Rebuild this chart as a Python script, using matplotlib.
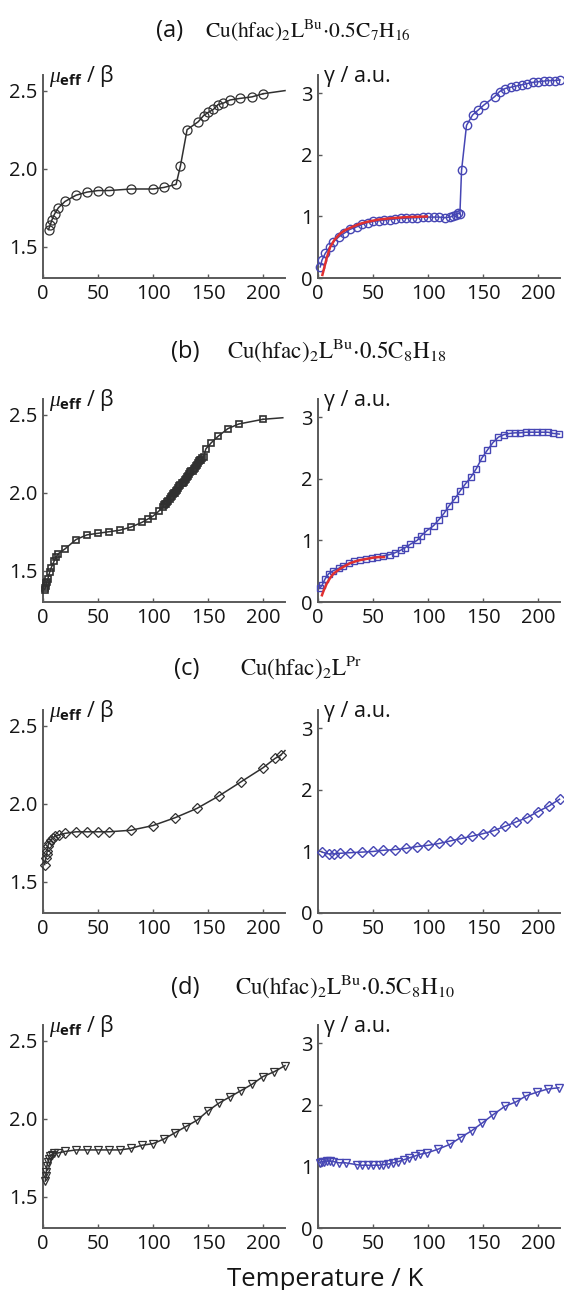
import matplotlib
matplotlib.use("Agg")
import matplotlib.pyplot as plt

# ---------------- data ----------------
# (a) Cu(hfac)2L^Bu.0.5C7H16
Ta_mu = [5, 6.6, 8, 10.5, 14, 20, 30, 40, 50, 60, 80, 100, 110, 121, 125, 131, 141, 146,
         150, 155, 159, 164, 170, 179, 190, 200]
mu_a = [1.61, 1.64, 1.67, 1.71, 1.75, 1.79, 1.83, 1.85, 1.86, 1.86, 1.87, 1.87, 1.88, 1.90,
        2.02, 2.25, 2.30, 2.34, 2.36, 2.38, 2.41, 2.42, 2.44, 2.45, 2.46, 2.48]
Ta_mu_tail = [200, 220]
mu_a_tail = [2.48, 2.50]

Ta_g = [2, 3.6, 6.6, 10.6, 14, 19, 24, 29, 35, 40, 45, 50, 55, 60, 65, 70, 75, 80, 85, 90,
        95, 100, 105, 110, 115, 120, 123, 125, 127, 129, 130.5, 135, 140.5, 145.6, 150.7,
        160.7, 165, 170, 175, 180, 185, 190, 195, 200, 205, 210, 215, 220]
g_a = [0.18, 0.29, 0.40, 0.50, 0.59, 0.67, 0.73, 0.79, 0.83, 0.87, 0.90, 0.92, 0.93, 0.94,
       0.95, 0.96, 0.97, 0.97, 0.98, 0.98, 0.99, 0.99, 0.99, 0.99, 0.98, 0.99, 1.01, 1.03,
       1.05, 1.04, 1.75, 2.48, 2.65, 2.73, 2.81, 2.95, 3.03, 3.08, 3.10, 3.12, 3.14, 3.16,
       3.18, 3.19, 3.20, 3.21, 3.21, 3.22]
Ta_fit = [4, 5, 8, 11, 15, 20, 25, 31, 38, 44, 55, 65.6, 80, 99]
g_a_fit = [0.05, 0.12, 0.33, 0.50, 0.62, 0.72, 0.78, 0.83, 0.88, 0.91, 0.95, 0.97, 0.99, 1.00]

# (b) Cu(hfac)2L^Bu.0.5C8H18
Tb_mu = [1.5, 2, 2.5, 3, 3.5, 4.5, 6, 7.5, 10, 12, 14, 20, 30, 40, 50, 60, 70, 80, 90, 95,
         100, 105,
         109, 110, 111, 112, 113, 114, 115, 116, 117, 118, 119, 120, 121, 122, 123, 124, 125,
         126, 127, 128, 129, 130, 131, 132, 133, 134, 135, 136, 137, 138, 139, 140, 141, 142,
         143, 144, 145, 146,
         148, 153, 159, 168, 178, 200]
mu_b = [1.38, 1.39, 1.40, 1.42, 1.43, 1.45, 1.49, 1.52, 1.56, 1.59, 1.61, 1.64, 1.70, 1.73,
        1.74, 1.75, 1.76, 1.78, 1.81, 1.83, 1.85, 1.88,
        1.91, 1.92, 1.93, 1.93, 1.94, 1.95, 1.96, 1.97, 1.98, 1.99, 2.00, 2.00, 2.01, 2.02,
        2.03, 2.04, 2.05, 2.06, 2.06, 2.07, 2.08, 2.09, 2.10, 2.11, 2.12, 2.13, 2.14, 2.14,
        2.15, 2.16, 2.17, 2.18, 2.19, 2.20, 2.21, 2.21, 2.22, 2.23,
        2.28, 2.32, 2.36, 2.41, 2.44, 2.47]
Tb_mu_tail = [200, 218]
mu_b_tail = [2.47, 2.48]

Tb_g = [1.5, 3.6, 6.6, 9.7, 14, 19, 23, 28, 33, 38, 44, 49, 54, 59.5, 65, 70, 75, 79, 84, 90,
        94, 99, 105, 110, 114.5, 119, 124.5, 129, 134, 139, 144, 149, 154, 159, 164, 169,
        174, 179, 184, 189, 194, 199, 204, 209, 214, 219.5]
g_b = [0.22, 0.27, 0.38, 0.46, 0.51, 0.55, 0.59, 0.63, 0.66, 0.68, 0.70, 0.72, 0.73, 0.75,
       0.77, 0.80, 0.84, 0.88, 0.94, 1.00, 1.08, 1.16, 1.24, 1.34, 1.44, 1.56, 1.68, 1.80,
       1.92, 2.03, 2.17, 2.34, 2.47, 2.59, 2.68, 2.72, 2.74, 2.75, 2.75, 2.76, 2.76, 2.76,
       2.76, 2.76, 2.74, 2.73]
Tb_fit = [3.6, 5, 8, 11, 14, 20, 25, 29, 34, 38, 44, 50, 55, 60]
g_b_fit = [0.11, 0.18, 0.30, 0.39, 0.46, 0.54, 0.59, 0.63, 0.66, 0.68, 0.70, 0.72, 0.73, 0.73]

# (c) Cu(hfac)2L^Pr
Tc_mu = [1.5, 2.4, 3.3, 4, 4.5, 5.4, 7.5, 9, 10.5, 14.5, 20, 30, 40, 50, 60, 80, 100, 120,
         140, 160, 180, 200, 211, 216]
mu_c = [1.61, 1.65, 1.68, 1.70, 1.73, 1.75, 1.77, 1.78, 1.79, 1.80, 1.81, 1.82, 1.82, 1.82,
        1.82, 1.83, 1.86, 1.91, 1.97, 2.05, 2.14, 2.23, 2.29, 2.31]
Tc_mu_tail = [216, 220]
mu_c_tail = [2.31, 2.34]

Tc_g = [3.6, 9.7, 14.8, 19.6, 29, 40, 50, 59.5, 70, 80, 90, 100, 110, 120, 130, 140, 150, 160,
        170, 180, 190, 200, 210, 219.6]
g_c = [0.99, 0.96, 0.96, 0.97, 0.98, 0.99, 1.00, 1.02, 1.03, 1.05, 1.08, 1.10, 1.13, 1.17,
       1.21, 1.25, 1.29, 1.34, 1.41, 1.48, 1.55, 1.65, 1.74, 1.85]

# (d) Cu(hfac)2L^Bu.0.5C8H10
Td_mu = [2, 2.7, 3, 3.6, 4.5, 5.4, 6.6, 8, 9.7, 13.3, 20, 30, 40, 50, 60, 70, 80, 90, 100,
         110, 120, 130, 140, 150, 160, 170, 180, 190, 200, 210, 220]
mu_d = [1.60, 1.63, 1.66, 1.70, 1.72, 1.74, 1.76, 1.77, 1.78, 1.78, 1.79, 1.80, 1.80, 1.80,
        1.80, 1.80, 1.81, 1.83, 1.84, 1.87, 1.91, 1.95, 1.99, 2.05, 2.10, 2.14, 2.18, 2.22,
        2.27, 2.30, 2.34]

Td_g = [1.5, 3.6, 5.7, 8, 11, 14, 19, 25, 35, 40, 45, 50, 55, 59.5, 64, 68.6, 73, 78, 83, 88,
        93, 99, 109, 120, 129.6, 139.6, 149.5, 159, 170, 180, 189.4, 199.4, 209, 219]
g_d = [1.06, 1.08, 1.08, 1.09, 1.09, 1.08, 1.06, 1.06, 1.03, 1.02, 1.02, 1.02, 1.02, 1.03,
       1.04, 1.06, 1.08, 1.11, 1.14, 1.17, 1.20, 1.22, 1.28, 1.36, 1.47, 1.58, 1.71, 1.84,
       1.98, 2.05, 2.15, 2.21, 2.26, 2.28]

titles = [r"$\mathrm{Cu(hfac)_2L^{Bu}{\cdot}0.5C_7H_{16}}$",
          r"$\mathrm{Cu(hfac)_2L^{Bu}{\cdot}0.5C_8H_{18}}$",
          r"$\mathrm{Cu(hfac)_2L^{Pr}}$",
          r"$\mathrm{Cu(hfac)_2L^{Bu}{\cdot}0.5C_8H_{10}}$"]
letters = ["(a)", "(b)", "(c)", "(d)"]
x_ticks = [0, 50, 100, 150, 200]
mu_ticks = [1.5, 2.0, 2.5]
mu_ticklabels = ["1.5", "2.0", "2.5"]
g_ticks = [0, 1, 2, 3]

# ---------------- style ----------------
plt.rcParams["font.family"] = ["Open Sans", "DejaVu Sans"]
plt.rcParams["mathtext.fontset"] = "custom"
plt.rcParams["mathtext.rm"] = "Open Sans"
plt.rcParams["mathtext.it"] = "Liberation Serif:italic"
plt.rcParams["mathtext.bf"] = "Open Sans:bold"
plt.rcParams["mathtext.sf"] = "Open Sans"

W, H = 564, 1290
fig = plt.figure(figsize=(W / 100, H / 100), dpi=100)
fig.patch.set_facecolor("white")

BLACK = "#303030"
BLUE = "#4646b4"
RED = "#e03030"
SPINE = "#5a5a5a"
TXT = "#151515"

left_x0, right_x0, ax_w = 43, 318, 242
bottoms = [278, 602, 913, 1228]
ax_h = 203

title_base = [37, 358, 675, 994]
letter_x = [156, 171, 174, 171]
formula_x = [205, 227, 240, 235]
formula_size = [15.5, 16.6, 16.6, 16.6]


def style(ax, ylim, yt, ytl):
    ax.set_xlim(0, 220)
    ax.set_ylim(*ylim)
    for s in ["top", "right"]:
        ax.spines[s].set_visible(False)
    for s in ["left", "bottom"]:
        ax.spines[s].set_color(SPINE)
        ax.spines[s].set_linewidth(1.4)
    ax.set_xticks(x_ticks)
    ax.set_xticklabels([str(v) for v in x_ticks])
    ax.set_yticks(yt)
    ax.set_yticklabels(ytl)
    ax.tick_params(direction="in", length=3, width=1, color=SPINE, labelsize=14.5,
                   labelcolor=TXT, pad=4)
    ax.patch.set_alpha(0)


mu_sets = [
    (Ta_mu, mu_a, Ta_mu_tail, mu_a_tail, "o", 6.5, 0.9),
    (Tb_mu, mu_b, Tb_mu_tail, mu_b_tail, "s", 4.8, 1.2),
    (Tc_mu, mu_c, Tc_mu_tail, mu_c_tail, "D", 5.0, 0.9),
    (Td_mu, mu_d, None, None, "v", 6.0, 0.9),
]
g_sets = [
    (Ta_g, g_a, Ta_fit, g_a_fit, "o", 6.0),
    (Tb_g, g_b, Tb_fit, g_b_fit, "s", 5.0),
    (Tc_g, g_c, None, None, "D", 5.0),
    (Td_g, g_d, None, None, "v", 6.0),
]

for i in range(4):
    b = bottoms[i]
    axL = fig.add_axes([left_x0 / W, 1 - b / H, ax_w / W, ax_h / H])
    axR = fig.add_axes([right_x0 / W, 1 - b / H, ax_w / W, ax_h / H])

    T, mu, Tt, mut, mk, ms, mew = mu_sets[i]
    axL.plot(T, mu, color=BLACK, lw=1.1, marker=mk, ms=ms, mfc="none", mec=BLACK, mew=mew,
             clip_on=False, zorder=3)
    if Tt is not None:
        axL.plot(Tt, mut, color=BLACK, lw=1.1, clip_on=False, zorder=3)
    style(axL, (1.3, 2.6), mu_ticks, mu_ticklabels)

    T, g, Tf, gf, mk, ms = g_sets[i]
    axR.plot(T, g, color=BLUE, lw=1.1, marker=mk, ms=ms, mfc="none", mec=BLUE, mew=1.0,
             clip_on=False, zorder=3)
    if Tf is not None:
        axR.plot(Tf, gf, color=RED, lw=1.8, zorder=4)
    style(axR, (0, 3.3), g_ticks, [str(v) for v in g_ticks])

    axL.annotate(r"$\mu_{\mathbf{eff}}$ / β", xy=(0, 1), xycoords="axes fraction",
                 xytext=(4, -1), textcoords="offset points", ha="left", va="center",
                 fontsize=15.5, color=TXT)
    axR.annotate("γ / a.u.", xy=(0, 1), xycoords="axes fraction",
                 xytext=(4, -1), textcoords="offset points", ha="left", va="center",
                 fontsize=15.5, color=TXT)

    yb = 1 - title_base[i] / H
    fig.text(letter_x[i] / W, yb, letters[i], ha="left", va="baseline", fontsize=17,
             color=TXT)
    fig.text(formula_x[i] / W, yb, titles[i], ha="left", va="baseline",
             fontsize=formula_size[i], color=TXT, math_fontfamily="stix")

fig.text(325 / W, 1 - 1280 / H, "Temperature / K", ha="center", va="center", fontsize=18.5,
         color=TXT)

fig.savefig("out.png", dpi=100, facecolor="white")
